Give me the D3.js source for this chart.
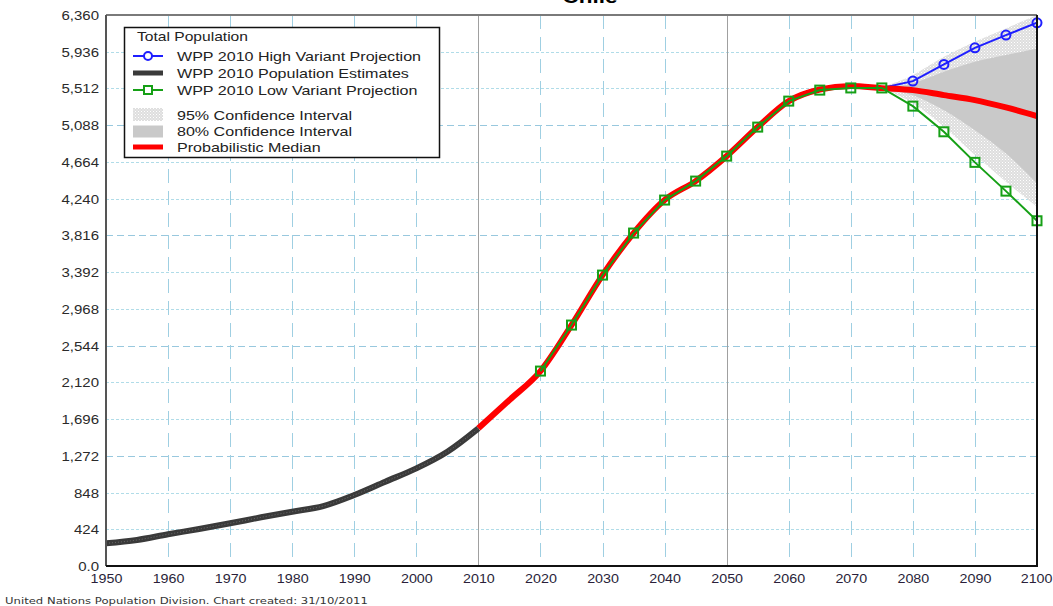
<!DOCTYPE html>
<html>
<head>
<meta charset="utf-8">
<script src="https://cdn.jsdelivr.net/npm/d3@7"></script>
<style>
  body { margin: 0; background: #fff; }
  svg { display: block; }
  text { font-family: "Liberation Sans", Arial, sans-serif; fill: #222; }
</style>
</head>
<body>
<svg id="chart" width="1053" height="606"></svg>
<script>
// ---- Data (thousands) ----
const estYears  = [1950,1955,1960,1965,1970,1975,1980,1985,1990,1995,2000,2005,2010];
const estValues = [262,300,366,427,493,562,627,692,819,973,1127,1319,1589];

const medYears  = [2010,2015,2020,2025,2030,2035,2040,2045,2050,2055,2060,2065,2070,2075,2080,2085,2090,2095,2100];
const medValues = [1589,1916,2250,2781,3358,3843,4224,4443,4731,5066,5366,5500,5541,5516,5493,5435,5378,5293,5193];

const lowYears  = [2020,2025,2030,2035,2040,2045,2050,2055,2060,2065,2070,2075,2080,2085,2090,2095,2100];
const lowValues = [2250,2781,3358,3843,4224,4443,4731,5066,5366,5493,5518,5518,5308,5012,4659,4327,3985];

const highYears  = [2075,2080,2085,2090,2095,2100];
const highValues = [5518,5597,5789,5981,6128,6270];

const ciYears = [2075,2080,2085,2090,2095,2100];
const lo95 = [5505,5343,5070,4743,4435,4146];
const hi95 = [5530,5666,5877,6050,6205,6360];
const lo80 = [5510,5435,5262,5031,4762,4416];
const hi80 = [5525,5573,5705,5820,5897,5974];

const xTicks = [1950,1960,1970,1980,1990,2000,2010,2020,2030,2040,2050,2060,2070,2080,2090,2100];
const yTicks = [0,424,848,1272,1696,2120,2544,2968,3392,3816,4240,4664,5088,5512,5936,6360];
const yTickLabels = ["0.0","424","848","1,272","1,696","2,120","2,544","2,968","3,392","3,816","4,240","4,664","5,088","5,512","5,936","6,360"];
const solidYears = [2010, 2050];

const title = "Chile";
const legendTitle = "Total Population";
const legendItems = [
  "WPP 2010 High Variant Projection",
  "WPP 2010 Population Estimates",
  "WPP 2010 Low Variant Projection",
  "95% Confidence Interval",
  "80% Confidence Interval",
  "Probabilistic Median"
];
const footer = "United Nations Population Division. Chart created: 31/10/2011";

// ---- Layout ----
const W = 1053, H = 606;
const plot = { left: 106, right: 1037, top: 15, bottom: 566 };
const SX = 1.25; // horizontal text stretch

const svg = d3.select("#chart");
const x = d3.scaleLinear().domain([1950, 2100]).range([plot.left, plot.right]);
const y = d3.scaleLinear().domain([0, 6360]).range([plot.bottom, plot.top]);

const defs = svg.append("defs");
defs.append("clipPath").attr("id", "plotClip")
  .append("rect").attr("x", plot.left).attr("y", plot.top)
  .attr("width", plot.right - plot.left).attr("height", plot.bottom - plot.top);

// speckled light-grey texture for the 95% band
const pat = defs.append("pattern").attr("id", "dots95")
  .attr("patternUnits", "userSpaceOnUse").attr("width", 3).attr("height", 3);
pat.append("rect").attr("width", 3).attr("height", 3).attr("fill", "#dedede");
pat.append("rect").attr("x", 0).attr("y", 0).attr("width", 1).attr("height", 1).attr("fill", "#ffffff");
pat.append("rect").attr("x", 1.5).attr("y", 1.5).attr("width", 1).attr("height", 1).attr("fill", "#f6f6f6");

function stretchedText(g, px, py, str, anchor, size, sx, extra) {
  const t = g.append("text")
    .attr("transform", `translate(${px},${py}) scale(${sx},1)`)
    .attr("text-anchor", anchor || "start")
    .style("font-size", size + "px")
    .text(str);
  if (extra) extra(t);
  return t;
}

// ---- Grid ----
const grid = svg.append("g");
yTicks.slice(1, -1).forEach((v, i) => {
  grid.append("line")
    .attr("x1", plot.left).attr("x2", plot.right)
    .attr("y1", Math.round(y(v)) + 0.5).attr("y2", Math.round(y(v)) + 0.5)
    .attr("stroke", (i % 3 === 2) ? "#98c8de" : "#b0dce8")
    .attr("stroke-width", 1)
    .attr("stroke-dasharray", (i % 3 === 2) ? "7,4" : "3,2");
});
xTicks.slice(1, -1).forEach(v => {
  const solid = solidYears.includes(v);
  grid.append("line")
    .attr("x1", Math.round(x(v)) + 0.5).attr("x2", Math.round(x(v)) + 0.5)
    .attr("y1", plot.top).attr("y2", plot.bottom)
    .attr("stroke", solid ? "#a0a0a0" : "#9fcfe2")
    .attr("stroke-width", 1)
    .attr("stroke-dasharray", solid ? null : "14,8");
});

// ---- Series ----
const series = svg.append("g").attr("clip-path", "url(#plotClip)");

const ci = ciYears.map((yr, i) => ({ yr, lo95: lo95[i], hi95: hi95[i], lo80: lo80[i], hi80: hi80[i] }));
series.append("path").datum(ci)
  .attr("fill", "url(#dots95)")
  .attr("d", d3.area().curve(d3.curveMonotoneX)
    .x(d => x(d.yr)).y0(d => y(d.lo95)).y1(d => y(d.hi95)));
series.append("path").datum(ci)
  .attr("fill", "#c9c9c9")
  .attr("d", d3.area().curve(d3.curveMonotoneX)
    .x(d => x(d.yr)).y0(d => y(d.lo80)).y1(d => y(d.hi80)));

const smooth = d3.line().curve(d3.curveMonotoneX).x(d => x(d[0])).y(d => y(d[1]));
const straight = d3.line().x(d => x(d[0])).y(d => y(d[1]));

// estimates
const est = estYears.map((yr, i) => [yr, estValues[i]]);
series.append("path").datum(est)
  .attr("fill", "none").attr("stroke", "#3a3a3a").attr("stroke-width", 6)
  .attr("d", smooth);
series.append("path").datum(est)
  .attr("fill", "none").attr("stroke", "#6a6a6a").attr("stroke-width", 1)
  .attr("stroke-dasharray", "1,2")
  .attr("d", smooth);

// high variant
const high = highYears.map((yr, i) => [yr, highValues[i]]);
series.append("path").datum(high)
  .attr("fill", "none").attr("stroke", "#1f1fff").attr("stroke-width", 2)
  .attr("d", straight);

// median
const med = medYears.map((yr, i) => [yr, medValues[i]]);
series.append("path").datum(med)
  .attr("fill", "none").attr("stroke", "#ff0000").attr("stroke-width", 6)
  .attr("stroke-linecap", "butt")
  .attr("d", smooth);

// low variant
const low = lowYears.map((yr, i) => [yr, lowValues[i]]);
series.append("path").datum(low)
  .attr("fill", "none").attr("stroke", "#16a016").attr("stroke-width", 2)
  .attr("d", straight);

const markers = svg.append("g");
markers.selectAll("circle").data(high.slice(1)).join("circle")
  .attr("cx", d => x(d[0])).attr("cy", d => y(d[1])).attr("r", 4.5)
  .attr("fill", "none").attr("stroke", "#1f1fff").attr("stroke-width", 2);
markers.selectAll("rect").data(low).join("rect")
  .attr("x", d => x(d[0]) - 4.5).attr("y", d => y(d[1]) - 4.5)
  .attr("width", 9).attr("height", 9)
  .attr("fill", "none").attr("stroke", "#16a016").attr("stroke-width", 2);

// ---- Frame ----
const frame = svg.append("g");
frame.append("line").attr("x1", plot.left).attr("x2", plot.right).attr("y1", plot.top).attr("y2", plot.top)
  .attr("stroke", "#7a7a7a").attr("stroke-width", 2);
frame.append("line").attr("x1", plot.left).attr("x2", plot.left).attr("y1", plot.top).attr("y2", plot.bottom)
  .attr("stroke", "#555").attr("stroke-width", 2);
frame.append("line").attr("x1", plot.left).attr("x2", plot.right + 1).attr("y1", plot.bottom).attr("y2", plot.bottom)
  .attr("stroke", "#111").attr("stroke-width", 2);
frame.append("line").attr("x1", plot.right).attr("x2", plot.right).attr("y1", plot.top).attr("y2", plot.bottom)
  .attr("stroke", "#111").attr("stroke-width", 2);

// ---- Axes ----
const yAxis = svg.append("g").attr("transform", `translate(${plot.left},0)`)
  .call(d3.axisLeft(y).tickValues(yTicks).tickSize(0).tickFormat((d, i) => yTickLabels[i]));
yAxis.select(".domain").remove();
yAxis.selectAll("text")
  .attr("x", null).attr("dy", null)
  .attr("transform", `translate(-7,4.5) scale(${SX},1)`)
  .attr("font-family", null).attr("font-size", null)
  .style("font-size", "12px").style("fill", "#2a2a2a");

const xAxis = svg.append("g").attr("transform", `translate(0,${plot.bottom})`)
  .call(d3.axisBottom(x).tickValues(xTicks).tickSize(0).tickFormat(d3.format("d")));
xAxis.select(".domain").remove();
xAxis.selectAll("text")
  .attr("y", null).attr("dy", null)
  .attr("transform", `translate(0,17) scale(1.1,1)`)
  .attr("font-family", null).attr("font-size", null)
  .style("font-size", "13px").style("fill", "#2a1f3a");
// keep the last year label inside the page edge
xAxis.selectAll(".tick").filter(d => d === 2100).select("text")
  .attr("text-anchor", "end").attr("transform", `translate(15,17) scale(1.1,1)`);

// ---- Title & footer ----
stretchedText(svg, 590, 3, title, "middle", 18, SX, t => t.style("font-weight", "bold").style("fill", "#000"));
stretchedText(svg, 5, 604, footer, "start", 8.5, 1.37, t => t.style("font-family", "'DejaVu Sans', Verdana, sans-serif").style("fill", "#333"));

// ---- Legend ----
const lg = svg.append("g");
lg.append("rect").attr("x", 124.5).attr("y", 27.5).attr("width", 315).attr("height", 130)
  .attr("fill", "#fff").attr("stroke", "#111").attr("stroke-width", 1.5);
stretchedText(lg, 137, 41, legendTitle, "start", 12, 1.3);

const rowY = [56, 73, 90, 115, 131.5, 147];
const sx0 = 133, sx1 = 163, sxm = 148, tx = 177;
// high
lg.append("line").attr("x1", sx0).attr("x2", sx1).attr("y1", rowY[0]).attr("y2", rowY[0])
  .attr("stroke", "#1f1fff").attr("stroke-width", 2);
lg.append("circle").attr("cx", sxm).attr("cy", rowY[0]).attr("r", 4)
  .attr("fill", "#fff").attr("stroke", "#1f1fff").attr("stroke-width", 2);
// estimates
lg.append("rect").attr("x", sx0).attr("y", rowY[1] - 2.5).attr("width", sx1 - sx0).attr("height", 5)
  .attr("fill", "#3a3a3a");
// low
lg.append("line").attr("x1", sx0).attr("x2", sx1).attr("y1", rowY[2]).attr("y2", rowY[2])
  .attr("stroke", "#16a016").attr("stroke-width", 2);
lg.append("rect").attr("x", sxm - 4).attr("y", rowY[2] - 4).attr("width", 8).attr("height", 8)
  .attr("fill", "#fff").attr("stroke", "#16a016").attr("stroke-width", 2);
// 95%
lg.append("rect").attr("x", sx0).attr("y", rowY[3] - 7).attr("width", sx1 - sx0).attr("height", 13)
  .attr("fill", "url(#dots95)");
// 80%
lg.append("rect").attr("x", sx0).attr("y", rowY[4] - 6).attr("width", sx1 - sx0).attr("height", 12)
  .attr("fill", "#c9c9c9");
// median
lg.append("line").attr("x1", sx0).attr("x2", sx1).attr("y1", rowY[5]).attr("y2", rowY[5])
  .attr("stroke", "#ff0000").attr("stroke-width", 5);

legendItems.forEach((s, i) => stretchedText(lg, tx, rowY[i] + 4.5, s, "start", 12, 1.34));
</script>
</body>
</html>
